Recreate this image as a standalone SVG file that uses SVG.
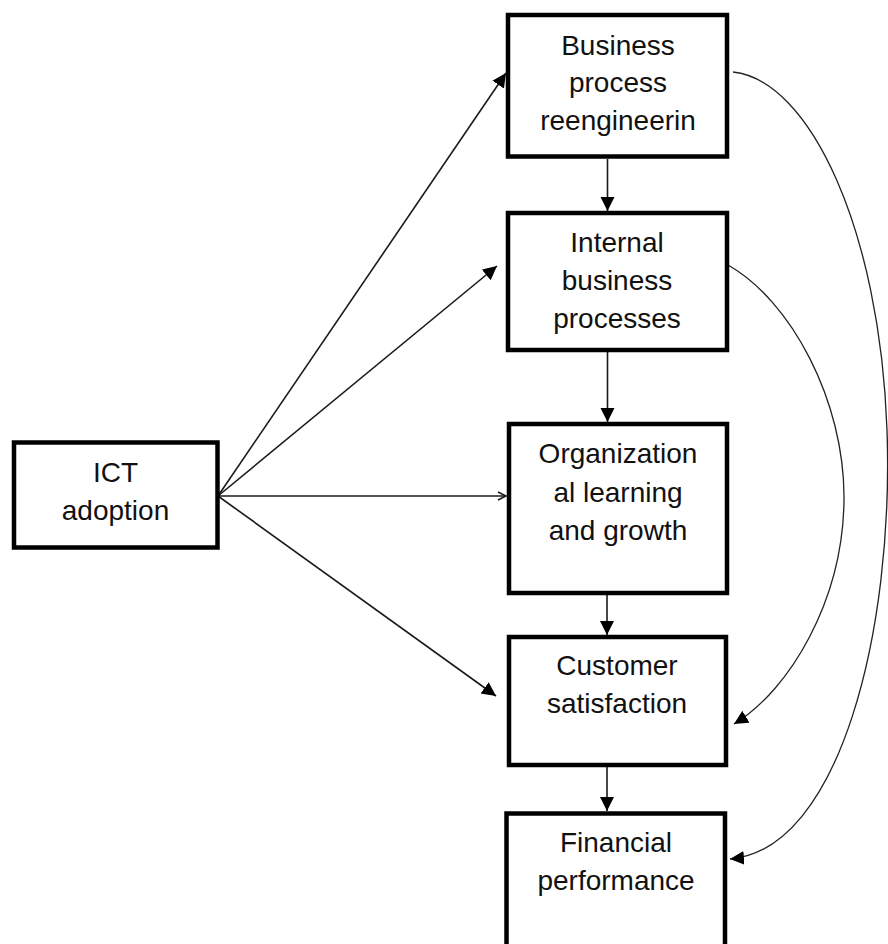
<svg xmlns="http://www.w3.org/2000/svg" width="888" height="944" viewBox="0 0 888 944">
<style>
.box{fill:#fff;stroke:#000;stroke-width:4.5}
.t{font-family:"Liberation Sans",Arial,sans-serif;font-size:28px;fill:#111;text-anchor:middle}
.c{fill:none;stroke:#1a1a1a;stroke-width:1.6}
.cv{fill:none;stroke:#222;stroke-width:1.3}
</style>
<defs>
<marker id="ah" markerUnits="userSpaceOnUse" markerWidth="15" markerHeight="15" refX="14" refY="7" orient="auto">
<path d="M0,0 L14,7 L0,14 z" fill="#000"/>
</marker>
<marker id="oh" markerUnits="userSpaceOnUse" markerWidth="12" markerHeight="12" refX="9" refY="5" orient="auto">
<path d="M1,1 L9,5 L1,9" fill="none" stroke="#1a1a1a" stroke-width="1.5"/>
</marker>
</defs>
<rect width="888" height="944" fill="#fff"/>
<g id="connectors">
<line class="c" x1="218" y1="496" x2="506" y2="73" marker-end="url(#ah)"/>
<line class="c" x1="218" y1="496" x2="497" y2="266" marker-end="url(#ah)"/>
<line class="c" x1="218" y1="496" x2="506" y2="496" marker-end="url(#oh)"/>
<line class="c" x1="218" y1="496" x2="496" y2="696" marker-end="url(#ah)"/>
<line class="c" x1="607.5" y1="159" x2="607.5" y2="211" marker-end="url(#ah)"/>
<line class="c" x1="607.5" y1="351" x2="607.5" y2="422" marker-end="url(#ah)"/>
<line class="c" x1="607" y1="595" x2="607" y2="635" marker-end="url(#ah)"/>
<line class="c" x1="607" y1="767" x2="607" y2="811" marker-end="url(#ah)"/>
<path class="cv" d="M733,72 C810,80 880,230 887,430 C894,630 840,850 730,859" marker-end="url(#ah)"/>
<path class="cv" d="M728,265 C790,300 845,400 844,500 C843,600 790,690 734,724" marker-end="url(#ah)"/>
</g>
<g id="ict">
<rect class="box" x="14" y="442.5" width="203.5" height="105"/>
<text class="t" x="115.5" y="482">ICT</text>
<text class="t" x="115.5" y="520">adoption</text>
</g>
<g id="bpr">
<rect class="box" x="508" y="15" width="219" height="141.5"/>
<text class="t" x="618" y="55">Business</text>
<text class="t" x="618" y="92">process</text>
<text class="t" x="618" y="130">reengineerin</text>
</g>
<g id="ibp">
<rect class="box" x="508" y="213" width="219" height="137"/>
<text class="t" x="617" y="252">Internal</text>
<text class="t" x="617" y="290">business</text>
<text class="t" x="617" y="328">processes</text>
</g>
<g id="olg">
<rect class="box" x="509" y="424" width="218" height="169"/>
<text class="t" x="618" y="463">Organization</text>
<text class="t" x="618" y="502">al learning</text>
<text class="t" x="618" y="540">and growth</text>
</g>
<g id="cs">
<rect class="box" x="509" y="637" width="217" height="128"/>
<text class="t" x="617" y="675">Customer</text>
<text class="t" x="617" y="713">satisfaction</text>
</g>
<g id="fp">
<rect class="box" x="506.5" y="813.5" width="218.5" height="150"/>
<text class="t" x="616" y="852">Financial</text>
<text class="t" x="616" y="890">performance</text>
</g>
</svg>
